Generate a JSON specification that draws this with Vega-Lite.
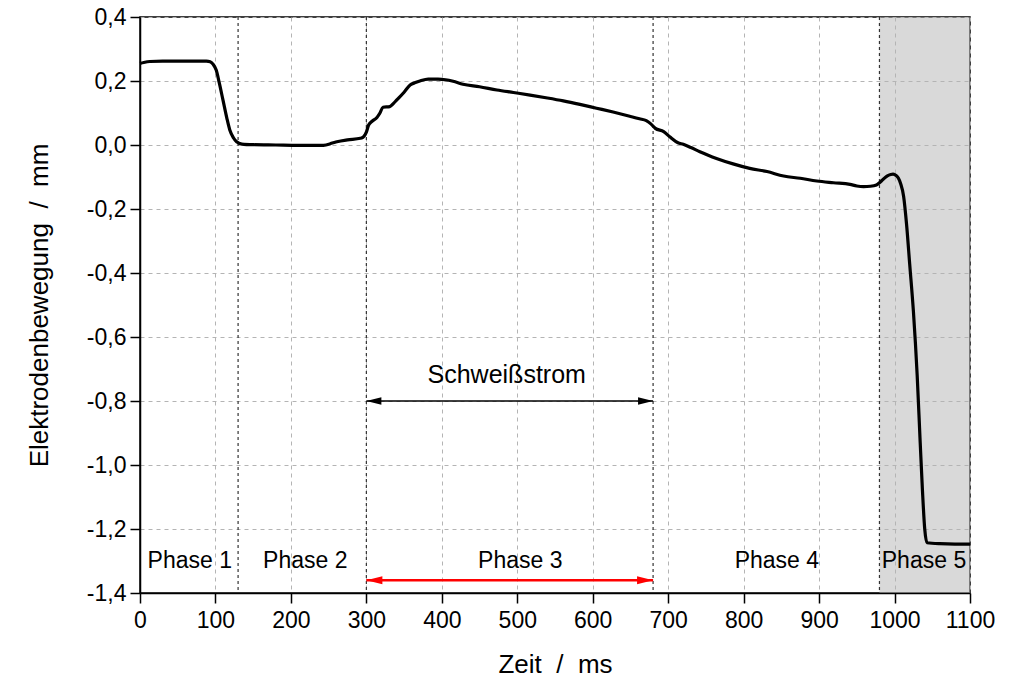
{
  "$schema": "https://vega.github.io/schema/vega-lite/v6.json",
  "width": 830,
  "height": 576,
  "autosize": {"type": "none"},
  "padding": {"left": 140, "top": 17, "right": 39, "bottom": 91},
  "background": "white",
  "config": {
    "font": "Liberation Sans",
    "view": {"stroke": "black", "strokeWidth": 1.5},
    "axis": {
      "domainColor": "black", "domainWidth": 1.5,
      "tickColor": "black", "tickWidth": 1.5,
      "labelColor": "black", "titleColor": "black",
      "labelFont": "Liberation Sans", "titleFont": "Liberation Sans",
      "labelFontSize": 23, "titleFontSize": 26, "titleFontWeight": "normal",
      "grid": true,
      "gridColor": "#b4b4b4", "gridDash": [4, 4], "gridWidth": 1
    }
  },
  "datasets": {
    "curve": [
      {"t": 0, "v": 0.255}, {"t": 5, "v": 0.258}, {"t": 13, "v": 0.261}, {"t": 30, "v": 0.262},
      {"t": 50, "v": 0.262}, {"t": 70, "v": 0.262}, {"t": 88, "v": 0.262}, {"t": 93, "v": 0.26},
      {"t": 97, "v": 0.252}, {"t": 101, "v": 0.234}, {"t": 105, "v": 0.195}, {"t": 110, "v": 0.14},
      {"t": 115, "v": 0.085}, {"t": 119, "v": 0.047}, {"t": 124, "v": 0.022}, {"t": 128, "v": 0.01},
      {"t": 135, "v": 0.003}, {"t": 150, "v": 0.001}, {"t": 180, "v": 0.0}, {"t": 210, "v": -0.001},
      {"t": 243, "v": -0.001}, {"t": 255, "v": 0.006}, {"t": 261, "v": 0.01}, {"t": 275, "v": 0.016},
      {"t": 292, "v": 0.021}, {"t": 296, "v": 0.025}, {"t": 300, "v": 0.04}, {"t": 303, "v": 0.0625},
      {"t": 308, "v": 0.075}, {"t": 314, "v": 0.086}, {"t": 318, "v": 0.1}, {"t": 322, "v": 0.118},
      {"t": 331, "v": 0.12}, {"t": 336, "v": 0.13}, {"t": 340, "v": 0.14}, {"t": 350, "v": 0.165},
      {"t": 358, "v": 0.1875}, {"t": 365, "v": 0.195}, {"t": 371, "v": 0.2}, {"t": 382, "v": 0.206},
      {"t": 395, "v": 0.206}, {"t": 405, "v": 0.204}, {"t": 415, "v": 0.199}, {"t": 428, "v": 0.19},
      {"t": 450, "v": 0.182}, {"t": 473, "v": 0.172}, {"t": 495, "v": 0.164}, {"t": 517, "v": 0.156},
      {"t": 540, "v": 0.147}, {"t": 561, "v": 0.138}, {"t": 583, "v": 0.127}, {"t": 605, "v": 0.115},
      {"t": 627, "v": 0.103}, {"t": 649, "v": 0.09}, {"t": 662, "v": 0.082}, {"t": 671, "v": 0.076},
      {"t": 677, "v": 0.066}, {"t": 683, "v": 0.052}, {"t": 694, "v": 0.042}, {"t": 702, "v": 0.026},
      {"t": 713, "v": 0.007}, {"t": 720, "v": 0.002}, {"t": 730, "v": -0.008}, {"t": 742, "v": -0.021},
      {"t": 753, "v": -0.032}, {"t": 764, "v": -0.042}, {"t": 786, "v": -0.059}, {"t": 808, "v": -0.073},
      {"t": 831, "v": -0.083}, {"t": 853, "v": -0.097}, {"t": 875, "v": -0.104}, {"t": 897, "v": -0.1125},
      {"t": 919, "v": -0.118}, {"t": 941, "v": -0.123}, {"t": 950, "v": -0.128}, {"t": 959, "v": -0.13},
      {"t": 968, "v": -0.129}, {"t": 976, "v": -0.125}, {"t": 980, "v": -0.118}, {"t": 985, "v": -0.107},
      {"t": 990, "v": -0.097}, {"t": 995, "v": -0.092}, {"t": 998, "v": -0.091}, {"t": 1002, "v": -0.095},
      {"t": 1005, "v": -0.103}, {"t": 1008, "v": -0.12}, {"t": 1012, "v": -0.16}, {"t": 1016, "v": -0.25},
      {"t": 1020, "v": -0.37}, {"t": 1025, "v": -0.52}, {"t": 1030, "v": -0.72}, {"t": 1034, "v": -0.93},
      {"t": 1037, "v": -1.08}, {"t": 1040, "v": -1.2}, {"t": 1043, "v": -1.243}, {"t": 1060, "v": -1.246},
      {"t": 1080, "v": -1.247}, {"t": 1100, "v": -1.247}
    ],
    "phases": [
      {"t": 66, "v": -1.3, "label": "Phase 1"},
      {"t": 219, "v": -1.3, "label": "Phase 2"},
      {"t": 504, "v": -1.3, "label": "Phase 3"},
      {"t": 844, "v": -1.3, "label": "Phase 4"},
      {"t": 1039, "v": -1.3, "label": "Phase 5"}
    ],
    "bounds": [{"t": 130}, {"t": 300}, {"t": 680}, {"t": 980}],
    "shade": [{"t": 980, "t2": 1100}],
    "arrows": [
      {"t": 300, "t2": 680, "v": -1.36, "kind": "Phase 3"},
      {"t": 300, "t2": 680, "v": -0.8, "kind": "Schweißstrom"}
    ],
    "current": [{"t": 486, "v": -0.72, "label": "Schweißstrom"}]
  },
  "layer": [
    {
      "data": {"name": "shade"},
      "mark": {"type": "rect", "color": "#b3b3b3", "opacity": 0.5},
      "encoding": {
        "x": {"field": "t", "type": "quantitative",
          "scale": {"domain": [0, 1100], "nice": false, "zero": false},
          "axis": {
            "grid": true,
            "values": [0, 50, 100, 150, 200, 250, 300, 350, 400, 450, 500, 550, 600, 650, 700, 750, 800, 850, 900, 950, 1000, 1050, 1100],
            "labelExpr": "datum.value % 100 === 0 ? format(datum.value, 'd') : ''",
            "tickSize": {"condition": {"test": "datum.value % 100 !== 0", "value": 5}, "value": 10},
            "gridOpacity": {"condition": {"test": "datum.value % 100 !== 0", "value": 0}, "value": 1},
            "labelPadding": 6,
            "labelFlush": false,
            "title": "Zeit\u00a0\u00a0/\u00a0\u00a0ms",
            "titlePadding": 19
          }},
        "x2": {"field": "t2"},
        "y": {"datum": -1.4, "type": "quantitative",
          "scale": {"domain": [-1.4, 0.4], "nice": false, "zero": false},
          "axis": {
            "grid": true,
            "values": [-1.4, -1.3, -1.2, -1.1, -1.0, -0.9, -0.8, -0.7, -0.6, -0.5, -0.4, -0.3, -0.2, -0.1, 0, 0.1, 0.2, 0.3, 0.4],
            "labelExpr": "abs(round(datum.value * 10)) % 2 === 0 ? (datum.value < -0.001 ? '-' : '') + replace(format(abs(datum.value), '.1f'), '.', ',') : ''",
            "tickSize": {"condition": {"test": "abs(round(datum.value * 10)) % 2 !== 0", "value": 5}, "value": 10},
            "gridOpacity": {"condition": {"test": "abs(round(datum.value * 10)) % 2 !== 0", "value": 0}, "value": 1},
            "labelPadding": 4,
            "labelFlush": false,
            "title": "Elektrodenbewegung\u00a0\u00a0/\u00a0\u00a0mm",
            "titlePadding": 34
          }},
        "y2": {"datum": 0.4}
      }
    },
    {
      "data": {"name": "bounds"},
      "mark": {"type": "rule", "color": "#333333", "strokeWidth": 1.2, "strokeDash": [3, 3]},
      "encoding": {"x": {"field": "t", "type": "quantitative"}}
    },
    {
      "data": {"name": "curve"},
      "mark": {"type": "line", "color": "black", "strokeWidth": 3.2, "interpolate": "monotone"},
      "encoding": {
        "x": {"field": "t", "type": "quantitative"},
        "y": {"field": "v", "type": "quantitative"}
      }
    },
    {
      "data": {"name": "phases"},
      "mark": {"type": "text", "fontSize": 23, "color": "black", "align": "center", "baseline": "middle"},
      "encoding": {
        "x": {"field": "t", "type": "quantitative"},
        "y": {"field": "v", "type": "quantitative"},
        "text": {"field": "label"}
      }
    },
    {
      "data": {"name": "current"},
      "mark": {"type": "text", "fontSize": 25, "color": "black", "align": "center", "baseline": "middle"},
      "encoding": {
        "x": {"field": "t", "type": "quantitative"},
        "y": {"field": "v", "type": "quantitative"},
        "text": {"field": "label"}
      }
    },
    {
      "data": {"name": "arrows"},
      "mark": {"type": "rule"},
      "encoding": {
        "x": {"field": "t", "type": "quantitative"},
        "x2": {"field": "t2"},
        "y": {"field": "v", "type": "quantitative"},
        "color": {"field": "kind", "type": "nominal", "scale": {"domain": ["Phase 3", "Schweißstrom"], "range": ["#ff0000", "#000000"]}, "legend": null},
        "strokeWidth": {"field": "kind", "type": "nominal", "scale": {"domain": ["Phase 3", "Schweißstrom"], "range": [2.5, 1.5]}, "legend": null}
      }
    },
    {
      "data": {"name": "arrows"},
      "mark": {"type": "point", "filled": true, "opacity": 1, "strokeWidth": 0, "shape": "M0,0L2,-0.5L2,0.5Z"},
      "encoding": {
        "x": {"field": "t", "type": "quantitative"},
        "y": {"field": "v", "type": "quantitative"},
        "color": {"field": "kind", "type": "nominal", "scale": {"domain": ["Phase 3", "Schweißstrom"], "range": ["#ff0000", "#000000"]}, "legend": null},
        "size": {"field": "kind", "type": "nominal", "scale": {"domain": ["Phase 3", "Schweißstrom"], "range": [256, 225]}, "legend": null}
      }
    },
    {
      "data": {"name": "arrows"},
      "mark": {"type": "point", "filled": true, "opacity": 1, "strokeWidth": 0, "shape": "M0,0L-2,-0.5L-2,0.5Z"},
      "encoding": {
        "x": {"field": "t2", "type": "quantitative"},
        "y": {"field": "v", "type": "quantitative"},
        "color": {"field": "kind", "type": "nominal", "scale": {"domain": ["Phase 3", "Schweißstrom"], "range": ["#ff0000", "#000000"]}, "legend": null},
        "size": {"field": "kind", "type": "nominal", "scale": {"domain": ["Phase 3", "Schweißstrom"], "range": [256, 225]}, "legend": null}
      }
    }
  ]
}
